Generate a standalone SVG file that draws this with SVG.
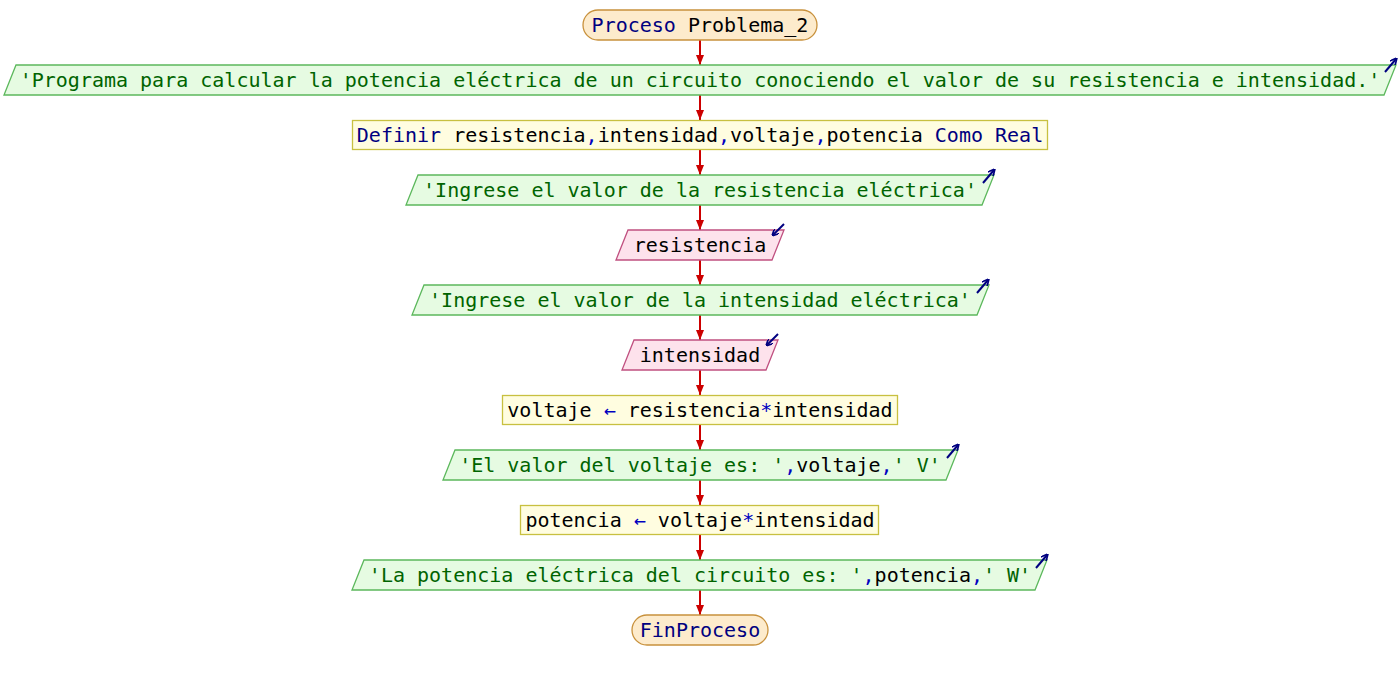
<svg xmlns="http://www.w3.org/2000/svg" width="1400" height="680" viewBox="0 0 1400 680">
<defs>
<style>
.t{font-family:"DejaVu Sans Mono","Liberation Mono",monospace;font-size:20px;text-anchor:middle}
.k{fill:#000080}
.v{fill:#000000}
.s{fill:#006400}
.o{fill:#0000c0}
.term{fill:#fdebcc;stroke:#c8913c;stroke-width:1.3}
.out{fill:#e6fbe2;stroke:#5cb85c;stroke-width:1.3}
.proc{fill:#fffde0;stroke:#c8c040;stroke-width:1.3}
.in{fill:#fde2ec;stroke:#c05080;stroke-width:1.3}
.flow{stroke:#cc0000;stroke-width:2;fill:none;marker-end:url(#ah)}
.ico{stroke:#000080;stroke-width:2;fill:none;marker-end:url(#ih)}
</style>
<marker id="ah" viewBox="0 0 10 8" refX="10" refY="4" markerWidth="5" markerHeight="4" orient="auto" markerUnits="strokeWidth">
<path d="M0,0 L10,4 L0,8 z" fill="#cc0000"/>
</marker>
<marker id="ih" viewBox="0 0 10 10" refX="8" refY="5" markerWidth="3.5" markerHeight="3.5" orient="auto" markerUnits="strokeWidth">
<path d="M0,0 L10,5 L0,10" fill="none" stroke="#000080" stroke-width="2.5"/>
</marker>
</defs>
<rect width="1400" height="680" fill="#ffffff"/>
<g id="connectors">
<line class="flow" x1="700" y1="40" x2="700" y2="65"/>
<line class="flow" x1="700" y1="95" x2="700" y2="120"/>
<line class="flow" x1="700" y1="150" x2="700" y2="175"/>
<line class="flow" x1="700" y1="205" x2="700" y2="230"/>
<line class="flow" x1="700" y1="260" x2="700" y2="285"/>
<line class="flow" x1="700" y1="315" x2="700" y2="340"/>
<line class="flow" x1="700" y1="370" x2="700" y2="395"/>
<line class="flow" x1="700" y1="425" x2="700" y2="450"/>
<line class="flow" x1="700" y1="480" x2="700" y2="505"/>
<line class="flow" x1="700" y1="535" x2="700" y2="560"/>
<line class="flow" x1="700" y1="590" x2="700" y2="615"/>
</g>
<g id="n1">
<rect class="term" x="583" y="10" width="234" height="30" rx="15"/>
<text class="t" x="700" y="32" xml:space="preserve"><tspan class="k">Proceso</tspan> <tspan class="v">Problema_2</tspan></text>
</g>
<g id="n2">
<polygon class="out" points="16,65 1396,65 1384,95 4,95"/>
<text class="t s" x="700" y="87">'Programa para calcular la potencia eléctrica de un circuito conociendo el valor de su resistencia e intensidad.'</text>
<line class="ico" x1="1385" y1="72" x2="1396" y2="59"/>
</g>
<g id="n3">
<rect class="proc" x="352.5" y="120.5" width="695" height="29"/>
<text class="t" x="700" y="142" xml:space="preserve"><tspan class="k">Definir</tspan> <tspan class="v">resistencia</tspan><tspan class="o">,</tspan><tspan class="v">intensidad</tspan><tspan class="o">,</tspan><tspan class="v">voltaje</tspan><tspan class="o">,</tspan><tspan class="v">potencia</tspan> <tspan class="k">Como Real</tspan></text>
</g>
<g id="n4">
<polygon class="out" points="418,175 994,175 982,205 406,205"/>
<text class="t s" x="700" y="197">'Ingrese el valor de la resistencia eléctrica'</text>
<line class="ico" x1="983" y1="183" x2="994" y2="170"/>
</g>
<g id="n5">
<polygon class="in" points="628,230 784,230 772,260 616,260"/>
<text class="t v" x="700" y="252">resistencia</text>
<line class="ico" x1="784" y1="224" x2="773" y2="235"/>
</g>
<g id="n6">
<polygon class="out" points="424,285 989,285 977,315 412,315"/>
<text class="t s" x="700" y="307">'Ingrese el valor de la intensidad eléctrica'</text>
<line class="ico" x1="977" y1="293" x2="988" y2="280"/>
</g>
<g id="n7">
<polygon class="in" points="634,340 778,340 766,370 622,370"/>
<text class="t v" x="700" y="362">intensidad</text>
<line class="ico" x1="778" y1="334" x2="767" y2="345"/>
</g>
<g id="n8">
<rect class="proc" x="502.5" y="395.5" width="395" height="29"/>
<text class="t" x="700" y="417" xml:space="preserve"><tspan class="v">voltaje</tspan> <tspan class="o">←</tspan> <tspan class="v">resistencia</tspan><tspan class="o">*</tspan><tspan class="v">intensidad</tspan></text>
</g>
<g id="n9">
<polygon class="out" points="455,450 958,450 946,480 443,480"/>
<text class="t" x="700" y="472" xml:space="preserve"><tspan class="s">'El valor del voltaje es: '</tspan><tspan class="o">,</tspan><tspan class="v">voltaje</tspan><tspan class="o">,</tspan><tspan class="s">' V'</tspan></text>
<line class="ico" x1="947" y1="458" x2="958" y2="445"/>
</g>
<g id="n10">
<rect class="proc" x="520.5" y="505.5" width="358" height="29"/>
<text class="t" x="700" y="527" xml:space="preserve"><tspan class="v">potencia</tspan> <tspan class="o">←</tspan> <tspan class="v">voltaje</tspan><tspan class="o">*</tspan><tspan class="v">intensidad</tspan></text>
</g>
<g id="n11">
<polygon class="out" points="364,560 1047,560 1035,590 352,590"/>
<text class="t" x="700" y="582" xml:space="preserve"><tspan class="s">'La potencia eléctrica del circuito es: '</tspan><tspan class="o">,</tspan><tspan class="v">potencia</tspan><tspan class="o">,</tspan><tspan class="s">' W'</tspan></text>
<line class="ico" x1="1036" y1="568" x2="1047" y2="555"/>
</g>
<g id="n12">
<rect class="term" x="632" y="615" width="136" height="30" rx="15"/>
<text class="t k" x="700" y="637">FinProceso</text>
</g>
</svg>
